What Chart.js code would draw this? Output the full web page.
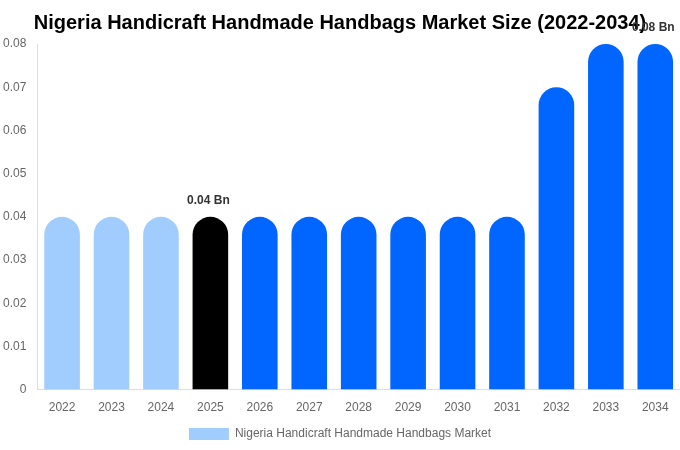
<!DOCTYPE html>
<html>
<head>
<meta charset="utf-8">
<script src="https://cdn.jsdelivr.net/npm/chart.js@4/dist/chart.umd.min.js"></script>
<style>
  html, body { margin: 0; padding: 0; background: #fff; }
  #wrap { width: 680px; height: 450px; }
</style>
</head>
<body>
<div id="wrap"><canvas id="marketChart"></canvas></div>
<script>
const years = ["2022", "2023", "2024", "2025", "2026", "2027", "2028", "2029", "2030", "2031", "2032", "2033", "2034"];
const marketSize = [0.04, 0.04, 0.04, 0.04, 0.04, 0.04, 0.04, 0.04, 0.04, 0.04, 0.07, 0.08, 0.08];
const barColors = [
  "#a0cdfd", "#a0cdfd", "#a0cdfd", "#000000",
  "#0066ff", "#0066ff", "#0066ff", "#0066ff", "#0066ff", "#0066ff", "#0066ff", "#0066ff", "#0066ff",
];
const labelledBars = { 3: "0.04 Bn", 12: "0.08 Bn" };

// draws the "x Bn" text above the marked bars
const valueLabels = {
  id: "valueLabels",
  afterDatasetsDraw(chart) {
    const c = chart.ctx;
    const meta = chart.getDatasetMeta(0);
    c.save();
    c.font = "bold 12px 'Liberation Sans', Arial, sans-serif";
    c.fillStyle = "#333";
    c.textAlign = "center";
    c.textBaseline = "bottom";
    Object.keys(labelledBars).forEach((i) => {
      const bar = meta.data[i];
      c.fillText(labelledBars[i], bar.x - 2, bar.y - 10);
    });
    c.restore();
  },
};

const ctx = document.getElementById("marketChart").getContext("2d");

const chart = new Chart(ctx, {
  type: "bar",
  data: {
    labels: years,
    datasets: [
      {
        label: "Nigeria Handicraft Handmade Handbags Market",
        data: marketSize,
        backgroundColor: barColors,
        borderRadius: 18,
        borderSkipped: "start",
        categoryPercentage: 0.9,
        barPercentage: 0.8,
      },
    ],
  },
  options: {
    responsive: true,
    maintainAspectRatio: false,
    animation: false,
    layout: { padding: { left: 0, right: 0, top: 0, bottom: 0 } },
    plugins: {
      title: {
        display: true,
        text: "Nigeria Handicraft Handmade Handbags Market Size (2022-2034)",
        color: "#000",
        font: { size: 20, weight: "bold", family: "'Liberation Sans', Arial, sans-serif" },
        padding: { top: 11, bottom: 9 },
      },
      legend: {
        position: "bottom",
        labels: {
          color: "#666",
          boxWidth: 40,
          boxHeight: 12,
          font: { size: 12, family: "'Liberation Sans', Arial, sans-serif" },
          generateLabels: (ch) => [
            {
              text: ch.data.datasets[0].label,
              fillStyle: "#a0cdfd",
              strokeStyle: "#a0cdfd",
              fontColor: "#666",
              lineWidth: 0,
              datasetIndex: 0,
            },
          ],
        },
      },
      tooltip: { enabled: false },
    },
    scales: {
      x: {
        grid: { display: false },
        border: { color: "#ddd" },
        ticks: { color: "#666", font: { size: 12, family: "'Liberation Sans', Arial, sans-serif" } },
      },
      y: {
        min: 0,
        max: 0.08,
        grid: { display: false },
        border: { color: "#ddd" },
        ticks: {
          stepSize: 0.01,
          color: "#666",
          font: { size: 12, family: "'Liberation Sans', Arial, sans-serif" },
        },
      },
    },
  },
  plugins: [valueLabels],
});
</script>
</body>
</html>
